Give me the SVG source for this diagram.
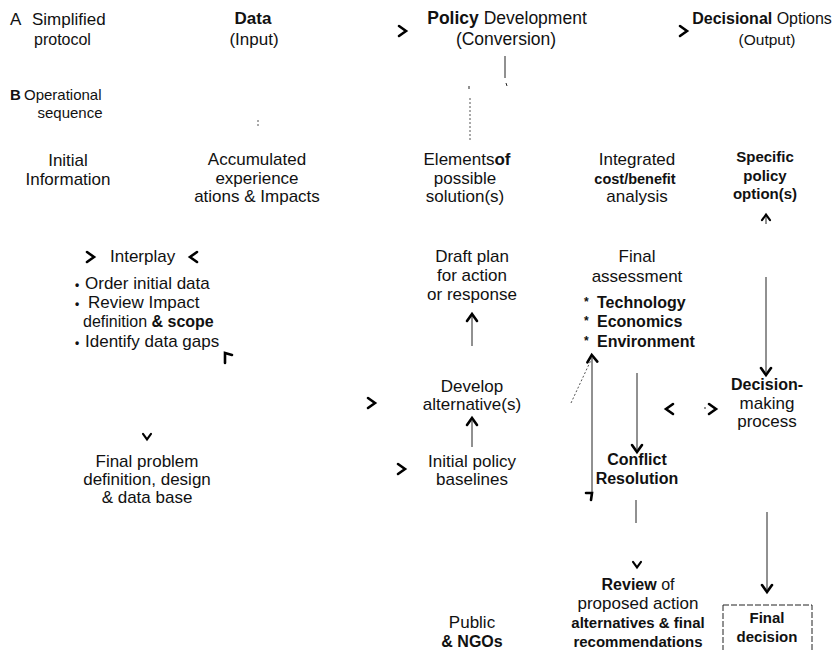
<svg xmlns="http://www.w3.org/2000/svg" width="839" height="650" viewBox="0 0 839 650">
<defs>
<style>
text{font-family:"Liberation Sans",Arial,sans-serif;font-size:17px;fill:#111}
.c{text-anchor:middle}
.b{font-weight:bold}
.ast{font-size:12px;font-weight:bold}
.ln{stroke:#222;stroke-width:1;fill:none}
.dot{stroke:#555;stroke-width:1;fill:none;stroke-dasharray:2,2}
.hd{stroke:#000;stroke-width:2.6;fill:none;stroke-linecap:round;stroke-linejoin:miter}
</style>
<path id="chev" d="M-4,-5 L3,0 L-4,5" class="hd"/>
</defs>
<rect width="839" height="650" fill="#fff"/>

<g id="rowA">
<text x="10" y="25">A</text>
<text x="32" y="25">Simplified</text>
<text x="34" y="45" style="font-size:16px">protocol</text>
</g>
<g id="data-input">
<text x="253" y="24" class="c b">Data</text>
<text x="254" y="45" class="c">(Input)</text>
</g>
<g id="policy-dev">
<text x="507" y="24" class="c" style="font-size:17.5px"><tspan class="b">Policy</tspan> Development</text>
<text x="506" y="45" class="c" style="font-size:17.5px">(Conversion)</text>
</g>
<g id="decisional">
<text x="762" y="24" class="c" style="font-size:16px"><tspan class="b">Decisional</tspan> Options</text>
<text x="767" y="45" class="c" style="font-size:15.5px">(Output)</text>
</g>
<g id="rowB">
<text x="10" y="100" class="b" style="font-size:15px">B</text>
<text x="24" y="100" style="font-size:15px">Operational</text>
<text x="70" y="118" class="c" style="font-size:15px">sequence</text>
</g>

<g id="initial-info">
<text x="68" y="166" class="c">Initial</text>
<text x="68" y="185" class="c">Information</text>
</g>
<g id="accumulated">
<text x="257" y="165" class="c">Accumulated</text>
<text x="257" y="184" class="c">experience</text>
<text x="257" y="202" class="c">ations &amp; Impacts</text>
</g>
<g id="elements">
<text x="467" y="165" class="c">Elements<tspan class="b">of</tspan></text>
<text x="465" y="184" class="c">possible</text>
<text x="465" y="202" class="c">solution(s)</text>
</g>
<g id="integrated">
<text x="637" y="165" class="c">Integrated</text>
<text x="635" y="184" class="c b" style="font-size:14.5px">cost/benefit</text>
<text x="637" y="202" class="c">analysis</text>
</g>
<g id="specific">
<text x="765" y="162" class="c b" style="font-size:15px">Specific</text>
<text x="765" y="181" class="c b" style="font-size:15px">policy</text>
<text x="765" y="199" class="c b" style="font-size:15px">option(s)</text>
</g>

<g id="interplay">
<text x="110" y="262">Interplay</text>
<text x="75" y="289" class="ast">•</text><text x="85" y="289">Order initial data</text>
<text x="75" y="308" class="ast">•</text><text x="88" y="308">Review Impact</text>
<text x="83" y="327" style="font-size:16px">definition <tspan class="b">&amp; scope</tspan></text>
<text x="75" y="347" class="ast">•</text><text x="85" y="347">Identify data gaps</text>
</g>
<g id="draft-plan">
<text x="472" y="262" class="c">Draft plan</text>
<text x="472" y="281" class="c">for action</text>
<text x="472" y="300" class="c">or response</text>
</g>
<g id="final-assessment">
<text x="637" y="262" class="c">Final</text>
<text x="637" y="282" class="c">assessment</text>
<text x="584" y="306" class="ast">*</text><text x="597" y="308" class="b" style="font-size:16px">Technology</text>
<text x="584" y="325" class="ast">*</text><text x="597" y="327" class="b" style="font-size:16px">Economics</text>
<text x="584" y="345" class="ast">*</text><text x="597" y="347" class="b" style="font-size:16px">Environment</text>
</g>

<g id="develop">
<text x="472" y="392" class="c">Develop</text>
<text x="472" y="410" class="c">alternative(s)</text>
</g>
<g id="decision-making">
<text x="767" y="390" class="c b" style="font-size:16px">Decision-</text>
<text x="767" y="409" class="c">making</text>
<text x="767" y="427" class="c">process</text>
</g>
<g id="final-problem">
<text x="147" y="467" class="c">Final problem</text>
<text x="147" y="485" class="c">definition, design</text>
<text x="147" y="503" class="c">&amp; data base</text>
</g>
<g id="initial-policy">
<text x="472" y="467" class="c">Initial policy</text>
<text x="472" y="485" class="c">baselines</text>
</g>
<g id="conflict">
<text x="637" y="465" class="c b" style="font-size:16px">Conflict</text>
<text x="637" y="484" class="c b" style="font-size:16px">Resolution</text>
</g>
<g id="review">
<text x="638" y="590" class="c b" style="font-size:16px">Review <tspan style="font-weight:normal">of</tspan></text>
<text x="638" y="609" class="c">proposed action</text>
<text x="638" y="628" class="c b" style="font-size:15px">alternatives &amp; final</text>
<text x="638" y="647" class="c b" style="font-size:15px">recommendations</text>
</g>
<g id="public">
<text x="472" y="628" class="c">Public</text>
<text x="472" y="647" class="c b" style="font-size:16px">&amp; NGOs</text>
</g>
<g id="final-decision">
<path d="M723,605 H812 V652 M723,605 V652" class="ln" style="stroke-dasharray:6,2"/>
<text x="767" y="623" class="c b" style="font-size:15px">Final</text>
<text x="767" y="642" class="c b" style="font-size:15px">decision</text>
</g>

<g id="connectors">
<use href="#chev" transform="translate(403,31)"/>
<use href="#chev" transform="translate(684,31)"/>
<line x1="505" y1="56" x2="505" y2="78" class="ln"/>
<line x1="506" y1="83" x2="507" y2="86" class="ln"/>
<line x1="469" y1="86" x2="469" y2="89" class="ln"/>
<line x1="470" y1="98" x2="470" y2="142" class="dot"/>
<line x1="258" y1="120" x2="258" y2="127" class="dot"/>
<use href="#chev" transform="translate(91,257)"/>
<use href="#chev" transform="translate(193,257) rotate(180)"/>
<path d="M225,363 L225,353 L232,355" class="hd"/>
<line x1="472" y1="316" x2="472" y2="346" class="ln"/>
<use href="#chev" transform="translate(472,317) rotate(-90)"/>
<line x1="766" y1="216" x2="766" y2="224" class="ln"/>
<use href="#chev" transform="translate(766,217) rotate(-90) scale(0.8)"/>
<line x1="766" y1="277" x2="766" y2="372" class="ln"/>
<use href="#chev" transform="translate(766,372) rotate(90)"/>
<use href="#chev" transform="translate(372,403)"/>
<use href="#chev" transform="translate(402,469)"/>
<use href="#chev" transform="translate(147,437) rotate(90) scale(0.8)"/>
<line x1="472" y1="421" x2="472" y2="447" class="ln"/>
<use href="#chev" transform="translate(472,421) rotate(-90)"/>
<line x1="592" y1="358" x2="592" y2="494" class="ln"/>
<use href="#chev" transform="translate(592,358) rotate(-95)"/>
<path d="M586,493 L592,493 L591,500" class="hd"/>
<line x1="571" y1="403" x2="591" y2="360" class="dot"/>
<line x1="637" y1="373" x2="637" y2="449" class="ln"/>
<use href="#chev" transform="translate(637,449) rotate(90)"/>
<use href="#chev" transform="translate(669,409) rotate(180)"/>
<use href="#chev" transform="translate(713,409)"/>
<line x1="704" y1="408" x2="706" y2="408" class="ln"/>
<line x1="636" y1="500" x2="636" y2="523" class="ln"/>
<use href="#chev" transform="translate(637,565) rotate(90) scale(0.8)"/>
<line x1="767" y1="512" x2="767" y2="589" class="ln"/>
<use href="#chev" transform="translate(767,589) rotate(90)"/>
</g>
</svg>
